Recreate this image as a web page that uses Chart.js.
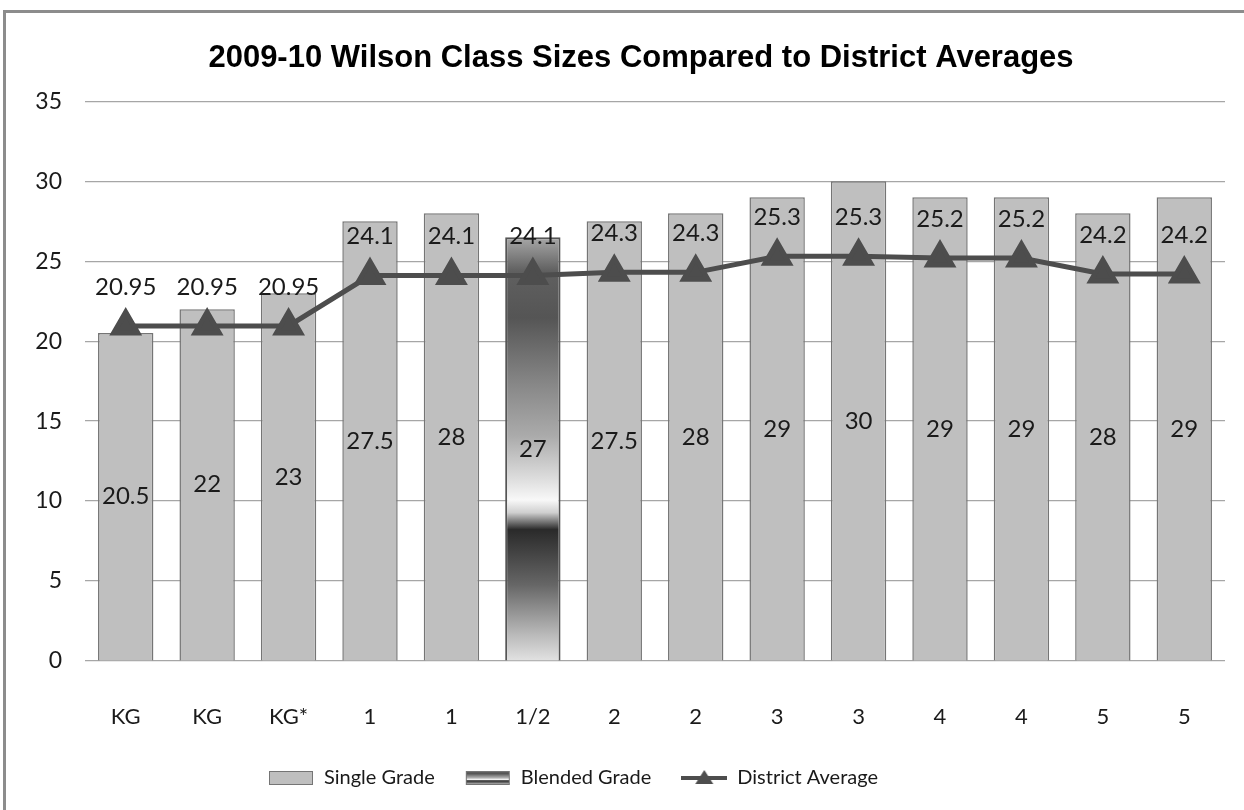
<!DOCTYPE html>
<html>
<head>
<meta charset="utf-8">
<script src="https://cdn.jsdelivr.net/npm/chart.js@4"></script>
<style>
  html, body { margin: 0; padding: 0; background: #fff; }
  #frame { position: absolute; left: 3px; top: 10px; width: 1400px; height: 1000px;
           border-left: 3px solid #8c8c8c; border-top: 3px solid #8c8c8c; }
  #wrap { position: absolute; left: 0; top: 0; width: 1244px; height: 810px; }
</style>
</head>
<body>
<div id="frame"></div>
<div id="wrap"><canvas id="grafico" width="1244" height="810"></canvas></div>
<script>
// categorias e valores
const categorias = ['KG', 'KG', 'KG*', '1', '1', '1/2', '2', '2', '3', '3', '4', '4', '5', '5'];
const serieUnica = [20.5, 22, 23, 27.5, 28, null, 27.5, 28, 29, 30, 29, 29, 28, 29];
const serieMista = [null, null, null, null, null, 26.5, null, null, null, null, null, null, null, null];
const mediaDistrito = [20.95, 20.95, 20.95, 24.1, 24.1, 24.1, 24.3, 24.3, 25.3, 25.3, 25.2, 25.2, 24.2, 24.2];
const rotulosBarras = ['20.5', '22', '23', '27.5', '28', '27', '27.5', '28', '29', '30', '29', '29', '28', '29'];
const ticksY = [0, 5, 10, 15, 20, 25, 30, 35];

const cinzaBarra = '#bfbfbf';
const bordaBarra = '#757575';
const cinzaLinha = '#4d4d4d';
const fonteTexto = 'Lato, "Open Sans", sans-serif';
const baseGrafico = 661; // borda inferior da área de plotagem
const margemInferior = 12;

// paradas do degradê da barra mista (de cima para baixo)
const paradas = [
    [0.00, '#a8a8a8'], [0.08, '#606060'], [0.19, '#555555'], [0.35, '#888888'],
    [0.47, '#ababab'], [0.57, '#dddddd'], [0.62, '#f8f8f8'], [0.65, '#cfcfcf'],
    [0.69, '#2a2a2a'], [0.82, '#666666'], [0.94, '#bbbbbb'], [1.00, '#e2e2e2']
];

function degrade(ctx, y0, y1) {
    const g = ctx.createLinearGradient(0, y0, 0, y1);
    paradas.forEach(p => g.addColorStop(p[0], p[1]));
    return g;
}

// imagens da legenda
function caixaLegenda(tipo) {
    const c = document.createElement('canvas');
    c.width = 46; c.height = 24;
    const ctx = c.getContext('2d');
    if (tipo === 'linha') {
        ctx.strokeStyle = cinzaLinha; ctx.lineWidth = 4;
        ctx.beginPath(); ctx.moveTo(0, 12); ctx.lineTo(46, 12); ctx.stroke();
        ctx.fillStyle = cinzaLinha;
        ctx.beginPath(); ctx.moveTo(23, 4); ctx.lineTo(32, 18); ctx.lineTo(14, 18); ctx.closePath(); ctx.fill();
    } else {
        ctx.fillStyle = tipo === 'mista' ? degrade(ctx, 5, 19) : cinzaBarra;
        ctx.fillRect(1, 5, 44, 14);
        ctx.strokeStyle = bordaBarra; ctx.lineWidth = 1;
        ctx.strokeRect(1.5, 5.5, 43, 13);
    }
    return c;
}
const imagensLegenda = [caixaLegenda('unica'), caixaLegenda('mista'), caixaLegenda('linha')];

// plugin para escrever os rótulos de dados
const rotulos = {
    id: 'rotulos',
    beforeDraw(chart) {
        // no original a legenda fica à esquerda do centro e o título à direita
        chart.legend.right = chart.width - 98;
        chart.titleBlock.left = 57;
    },
    afterDatasetsDraw(chart) {
        const ctx = chart.ctx;
        ctx.save();
        ctx.font = '24px ' + fonteTexto;
        ctx.fillStyle = '#1a1a1a';
        ctx.textAlign = 'center';
        ctx.textBaseline = 'middle';
        [0, 1].forEach(d => {
            chart.getDatasetMeta(d).data.forEach((el, i) => {
                const v = chart.data.datasets[d].data[i];
                if (v === null) return;
                ctx.fillText(rotulosBarras[i], el.x, (el.y + el.base) / 2);
            });
        });
        chart.getDatasetMeta(2).data.forEach((el, i) => {
            ctx.fillText(String(mediaDistrito[i]), el.x, el.y - 39);
        });
        ctx.restore();
    }
};

const grafico = new Chart(document.getElementById('grafico'), {
    type: 'bar',
    data: {
        labels: categorias,
        datasets: [{
            label: 'Single Grade',
            data: serieUnica,
            backgroundColor: cinzaBarra,
            borderColor: bordaBarra,
            borderWidth: 1.5,
            grouped: false,
            barPercentage: 0.68,
            categoryPercentage: 1,
            order: 2
        }, {
            label: 'Blended Grade',
            data: serieMista,
            backgroundColor: function (context) {
                const chart = context.chart;
                const y = chart.scales.y;
                if (!y || context.raw == null) return '#888888';
                return degrade(chart.ctx, y.getPixelForValue(context.raw), y.getPixelForValue(0));
            },
            borderColor: '#555555',
            borderWidth: 2,
            grouped: false,
            barPercentage: 0.68,
            categoryPercentage: 1,
            order: 1
        }, {
            type: 'line',
            label: 'District Average',
            data: mediaDistrito,
            borderColor: cinzaLinha,
            backgroundColor: cinzaLinha,
            borderWidth: 5,
            pointStyle: 'triangle',
            pointRadius: 14,
            pointHoverRadius: 14,
            pointBackgroundColor: cinzaLinha,
            pointBorderColor: cinzaLinha,
            tension: 0,
            order: 0
        }]
    },
    options: {
        responsive: false,
        animation: false,
        layout: { padding: { top: 28, right: 19, bottom: margemInferior, left: 0 } },
        scales: {
            x: {
                afterFit: function (scale) {
                    const legenda = scale.chart.legend ? scale.chart.legend.height : 0;
                    scale.height = scale.chart.height - margemInferior - legenda - baseGrafico;
                },
                grid: { display: false, drawTicks: false },
                border: { display: false },
                ticks: { color: '#1a1a1a', font: { family: fonteTexto, size: 22 }, padding: 43 }
            },
            y: {
                min: 0,
                max: 35,
                afterBuildTicks: function (scale) { scale.ticks = ticksY.map(v => ({ value: v })); },
                afterFit: function (scale) { scale.width = 85; },
                grid: { color: '#a6a6a6', lineWidth: 1.2, drawTicks: false },
                border: { display: false },
                ticks: { color: '#1a1a1a', font: { family: fonteTexto, size: 23 }, padding: 23 }
            }
        },
        plugins: {
            title: {
                display: true,
                text: '2009-10 Wilson Class Sizes Compared to District Averages',
                color: '#000',
                font: { family: '"Liberation Sans", Arial, sans-serif', size: 31, weight: 'bold' },
                padding: { top: 12, bottom: 24 }
            },
            legend: {
                position: 'bottom',
                labels: {
                    usePointStyle: true,
                    pointStyleWidth: 46,
                    boxHeight: 20,
                    padding: 30,
                    color: '#1a1a1a',
                    font: { family: fonteTexto, size: 20 },
                    generateLabels: function (chart) {
                        return chart.data.datasets.map((ds, i) => ({
                            text: ds.label,
                            pointStyle: imagensLegenda[i],
                            fillStyle: 'transparent',
                            strokeStyle: 'transparent',
                            lineWidth: 0,
                            fontColor: '#1a1a1a',
                            datasetIndex: i
                        }));
                    }
                }
            },
            tooltip: { enabled: false }
        }
    },
    plugins: [rotulos]
});
</script>
</body>
</html>
